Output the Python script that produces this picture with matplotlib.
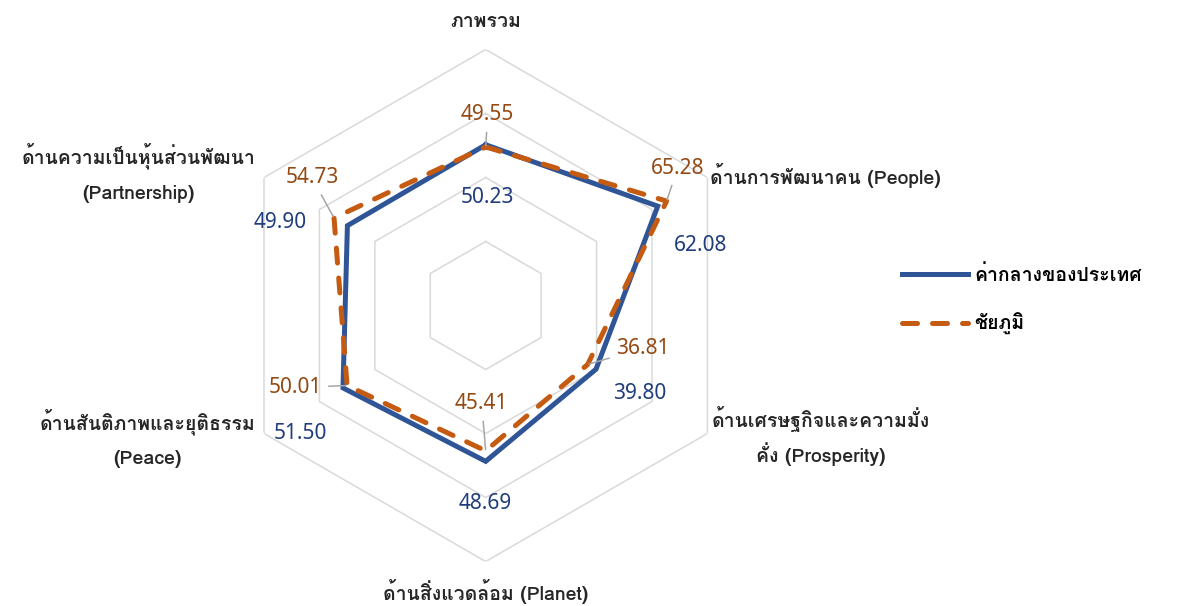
import numpy as np
import matplotlib
matplotlib.use("Agg")
import matplotlib.pyplot as plt

# Loma carries the Thai text (with bold), Noto Sans the value labels
plt.rcParams["font.family"] = ["Loma", "Noto Sans Thai Looped", "DejaVu Sans"]
VALUE_FONT = ["Noto Sans", "DejaVu Sans"]

categories = [
    "ภาพรวม",
    "ด้านการพัฒนาคน (People)",
    "ด้านเศรษฐกิจและความมั่ง\nคั่ง (Prosperity)",
    "ด้านสิ่งแวดล้อม (Planet)",
    "ด้านสันติภาพและยุติธรรม\n(Peace)",
    "ด้านความเป็นหุ้นส่วนพัฒนา\n(Partnership)",
]
national = [50.23, 62.08, 39.80, 48.69, 51.50, 49.90]
chaiyaphum = [49.55, 65.28, 36.81, 45.41, 50.01, 54.73]
series_names = ["ค่ากลางของประเทศ", "ชัยภูมิ"]
rings = [20, 40, 60, 80]

BLUE = "#2F5597"
ORANGE = "#C55A11"
BLUE_TXT = "#1F3C7C"
ORANGE_TXT = "#954912"
GRID = "#D9D9D9"

# label offsets in pixels from each data point
national_offsets = [(2, -53), (43, -39), (44, -24), (0, -42), (-43, -46), (-67, 3)]
chaiyaphum_offsets = [(2, 32), (11, 33), (55, 16), (-4, 47), (-52, -2), (-22, 40)]
# category label placement (radius, ha, linespacing)
cat_pos = [(88.6, "center", 1.4), (81, "left", 1.4), (81.5, "left", 1.5),
           (89.5, "center", 1.4), (83, "right", 2.1), (83, "right", 2.1)]

n = len(categories)
theta = np.arange(n) * 2 * np.pi / n
closed = np.append(theta, theta[0])

fig = plt.figure(figsize=(11.9, 6.06), dpi=100)
ax = fig.add_axes([0.1930, 0.0734, 0.4303, 0.8449], projection="polar")
ax.set_theta_zero_location("N")
ax.set_theta_direction(-1)
ax.set_ylim(0, 80)
ax.grid(False)
ax.set_xticks([])
ax.set_yticks([])
ax.spines["polar"].set_visible(False)
ax.patch.set_alpha(0)

for r in rings:
    ax.plot(closed, [r] * (n + 1), color=GRID, lw=1.1, zorder=1)

ax.plot(closed, national + national[:1], color=BLUE, lw=3.6, solid_joinstyle="miter",
        label=series_names[0], zorder=3)
ax.plot(closed, chaiyaphum + chaiyaphum[:1], color=ORANGE, lw=3.6, dashes=(3.0, 3.0),
        dash_capstyle="round", label=series_names[1], zorder=4)

for t, v, off in zip(theta, national, national_offsets):
    ax.annotate(f"{v:.2f}", xy=(t, v), xytext=off, textcoords="offset pixels",
                ha="center", va="center", fontsize=15, color=BLUE_TXT, family=VALUE_FONT,
                annotation_clip=False, zorder=5)

for t, v, off in zip(theta, chaiyaphum, chaiyaphum_offsets):
    ax.annotate(f"{v:.2f}", xy=(t, v), xytext=off, textcoords="offset pixels",
                ha="center", va="center", fontsize=15, color=ORANGE_TXT, family=VALUE_FONT,
                annotation_clip=False, zorder=5,
                arrowprops=dict(arrowstyle="-", color="#A6A6A6", lw=1.1, shrinkA=3, shrinkB=1))

for t, label, (r, ha, ls) in zip(theta, categories, cat_pos):
    ax.text(t, r, label, ha=ha, va="center", multialignment="center",
            fontsize=14, fontweight="bold", color="#262626", linespacing=ls)

fig.legend(loc="center left", bbox_to_anchor=(0.758, 0.505), frameon=False,
           borderpad=0, borderaxespad=0, handlelength=3.4, handletextpad=0.3,
           labelspacing=1.4, prop={"size": 14, "weight": "bold"})

fig.savefig("out.png")
